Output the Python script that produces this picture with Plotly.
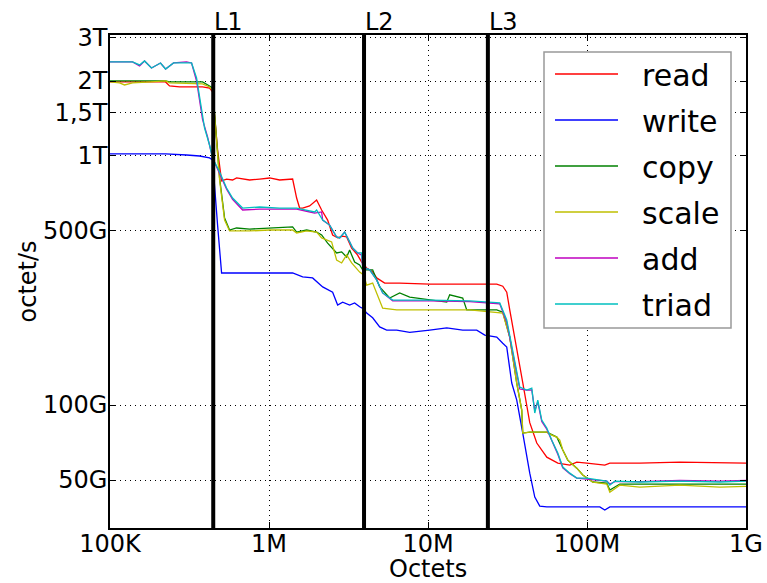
import numpy as np
import plotly.graph_objects as go

# ---- data (sizes in KB, bandwidth in GB/s) ----
read_kb = [100, 138.6, 182.4, 223.6, 236.8, 273.8, 325.8, 382.1, 422.9, 441.7, 474.9, 503.3, 541.1, 590.0, 625.3,
           682.3, 755.0, 872.9, 1009, 1166, 1300, 1408, 1492, 1558, 1628, 1801, 1993, 2143, 2338, 2513, 2702, 2906,
           3079, 3310, 3610, 3826, 4115, 4487, 4755, 5340, 6636, 10250, 18300, 27060, 29520, 31280, 32670, 36150,
           39440, 43650, 48320, 55850, 65510, 77950, 86270, 99700, 120400, 129400, 139200, 214900, 383700, 685000,
           1000000]
read_gbs = [1983, 1983, 1983, 1983, 1910, 1893, 1893, 1893, 1875, 1807, 1057, 794, 808, 801, 816,
            808, 801, 808, 816, 801, 808, 808, 678, 618, 618, 630, 666, 607, 553, 482, 469, 477,
            473, 427, 400, 375, 355, 342, 324, 309, 309, 306, 306, 306, 300, 284, 241, 171,
            123, 85, 70.4, 61.8, 58.5, 57.4, 59.0, 58.5, 57.9, 57.4, 58.5, 58.5, 59.0, 58.5,
            58.5]

write_kb = [100, 138.6, 223.6, 303.0, 365.8, 422.9, 441.7, 474.9, 503.3, 590, 755, 1009, 1408, 1628, 1881, 2175,
            2513, 2702, 2906, 3215, 3456, 3717, 3939, 4115, 4487, 4966, 5497, 6354, 7672, 10250, 13120, 16530,
            20260, 22750, 27060, 29520, 31280, 33630, 36150, 39440, 43650, 46940, 50470, 55850, 77950, 120400,
            129400, 139200, 214900, 383700, 1000000]
write_gbs = [1019, 1019, 1019, 1009, 1000, 982, 964, 528, 339, 339, 339, 339, 339, 327, 324, 298,
             284, 252, 259, 252, 257, 248, 243, 234, 224, 206, 200, 200, 196, 200, 204, 200,
             200, 191, 187.5, 177, 171, 122.6, 104.7, 77.2, 53.3, 42.7, 39.3, 39.0, 39.0, 39.0,
             37.9, 39.0, 39.0, 39.0, 39.0]

copy_kb = [100, 223.6, 236.8, 382.1, 422.9, 441.7, 488.9, 525.6, 564.9, 625.3, 755, 1009, 1408, 1492, 1725, 1993,
           2143, 2338, 2663, 2864, 3079, 3215, 3456, 3717, 3883, 4487, 4966, 5741, 6636, 7672, 10250, 13120,
           13690, 16530, 17520, 20260, 27060, 29520, 32670, 36150, 38870, 39440, 43650, 55850, 64570, 70430,
           75720, 86270, 94090, 108800, 133200, 139200, 160800, 214900, 383700, 1000000]
copy_gbs = [2001, 2001, 1983, 1983, 1910, 1875, 816, 564, 504.5, 514, 509, 514, 519, 495, 504.5, 495,
            482, 447, 408, 412, 393, 419, 375, 365, 349, 349, 298, 269, 282, 271.5, 264, 259,
            277, 269, 241, 241, 241, 236, 187.5, 122.6, 95.5, 77.2, 77.9, 77.9, 74.4, 66.0,
            60.1, 55.8, 52.4, 49.1, 48.6, 45.6, 48.2, 48.2, 48.2, 48.2]

scale_kb = [100, 114.8, 123.4, 138.6, 182.4, 223.6, 236.8, 325.8, 382.1, 422.9, 441.7, 488.9, 525.6, 564.9, 755,
            1009, 1408, 1492, 1725, 1993, 2143, 2477, 2663, 2864, 3079, 3310, 3717, 3939, 4115, 4487, 5187, 6354,
            10250, 18300, 29520, 32670, 36150, 38870, 39440, 43650, 49030, 55850, 60040, 64570, 67430, 70430,
            75720, 86270, 94090, 108800, 133200, 139200, 160800, 214900, 383700, 685000, 1000000]
scale_gbs = [1983, 1965, 1928, 1965, 1983, 2001, 1965, 1946, 1946, 1893, 1841, 801, 553, 500, 500,
             504.5, 504.5, 491, 500, 495, 469, 452, 382, 372, 400.5, 372, 342, 333, 303, 309, 245, 241,
             241, 241, 234, 187.5, 122.6, 95.5, 77.2, 77.9, 77.9, 77.9, 75.8, 74.4, 72.3, 66.0,
             60.1, 55.8, 52.4, 49.1, 48.2, 44.7, 47.7, 46.8, 47.7, 46.8, 47.2]

add_kb = [100, 138.6, 153.4, 164.9, 182.4, 207.8, 223.6, 251.0, 303.0, 325.8, 350.3, 382.1, 410.8, 441.7, 488.9,
          541.1, 590.0, 682.3, 872.9, 1166, 1492, 1725, 1936, 2143, 2175, 2406, 2663, 2782, 2991, 3215, 3358, 3610,
          3826, 3883, 4297, 4755, 5187, 5996, 10250, 18300, 28260, 31280, 34120, 37760, 41800, 44940, 46940,
          49030, 51940, 55850, 60040, 65510, 70430, 77950, 86270, 99700, 120400, 133200, 139200, 149600, 214900,
          383700, 685000, 1000000]
add_gbs = [2385, 2385, 2300, 2407, 2256, 2363, 2235, 2363, 2385, 2363, 2000, 1400, 1192, 982, 850,
           735, 670, 607, 612, 612, 612, 600, 590, 596, 553, 528, 473, 469, 495, 452, 427, 408,
           400, 358, 349, 318, 282, 262, 262, 260, 255, 215, 160, 116, 114.9, 115, 95,
           103, 86, 80, 72, 63.5, 56, 53, 50.9, 50.5, 49.8, 49.5, 48.2, 49.3, 49.3,
           49.8, 49.5, 49.8]

triad_kb = [100, 138.6, 153.4, 164.9, 182.4, 207.8, 223.6, 251.0, 303.0, 325.8, 350.3, 382.1, 393.3, 422.9, 441.7,
            488.9, 541.1, 590.0, 682.3, 872.9, 1166, 1492, 1725, 1936, 1993, 2175, 2406, 2663, 2782, 2991, 3215,
            3358, 3610, 3826, 3883, 4297, 4755, 5187, 5996, 10250, 18300, 28260, 31280, 34120, 37760, 41800,
            44940, 46940, 49030, 51940, 55850, 60040, 65510, 70430, 77950, 86270, 99700, 120400, 133200, 139200,
            149600, 214900, 383700, 685000, 1000000]
triad_gbs = [2385, 2385, 2321, 2407, 2256, 2363, 2235, 2363, 2363, 2363, 2057, 1461, 1295, 1107, 982,
             862, 744, 678, 618, 624, 618, 618, 607, 596, 607, 553, 528, 473, 469, 495, 452,
             427, 408, 408, 358, 349, 318, 282, 264, 264, 262, 257, 219.5, 166.3, 118.1, 114.9,
             117, 92.9, 104.7, 87.1, 80.9, 72.3, 64.2, 56.4, 53.3, 50.9, 50.9, 50.0, 49.5, 47.7,
             49.5, 49.1, 49.5, 49.1, 49.5]

cache_sizes = [446e3, 3.96e6, 23.8e6]
cache_labels = ["L1", "L2", "L3"]

x_tickvals = [1e5, 1e6, 1e7, 1e8, 1e9]
x_ticktext = ["100K", "1M", "10M", "100M", "1G"]
y_tickvals = [3e12, 2e12, 1.5e12, 1e12, 5e11, 1e11, 5e10]
y_ticktext = ["3T", "2T", "1,5T", "1T", "500G", "100G", "50G"]

y_min, y_max = 32.1e9, 3.06e12

series = [
    ("read", read_kb, read_gbs, "#ff0000"),
    ("write", write_kb, write_gbs, "#0000ff"),
    ("copy", copy_kb, copy_gbs, "#008000"),
    ("scale", scale_kb, scale_gbs, "#bfbf00"),
    ("add", add_kb, add_gbs, "#bf00bf"),
    ("triad", triad_kb, triad_gbs, "#00bfbf"),
]

# ---- layout geometry (pixels) ----
W, H = 767, 583
ML, MR, MT, MB = 110, 21, 35, 55
PW, PH = W - ML - MR, H - MT - MB


def px_x(px):
    return (px - ML) / PW


def px_y(py):
    return (H - MB - py) / PH


FONT = "DejaVu Sans"
NBSP = "\u00a0"
fig = go.Figure()
for name, xs, ys, col in series:
    fig.add_trace(go.Scatter(
        x=np.array(xs) * 1e3, y=np.array(ys) * 1e9, mode="lines", name=NBSP * 2 + name,
        legendgroup=name, line=dict(color=col, width=1.3)))

for c, lab in zip(cache_sizes, cache_labels):
    fig.add_trace(go.Scatter(x=[c, c], y=[1e10, 1e13], mode="lines", showlegend=False,
                             line=dict(color="black", width=4), hoverinfo="skip"))
    fig.add_annotation(x=np.log10(c), xref="x", y=1, yref="paper", text=lab, showarrow=False,
                       xanchor="left", yanchor="bottom", yshift=-3, xshift=-1,
                       font=dict(family=FONT, size=24, color="black"))

axis_common = dict(
    type="log", showline=True, linecolor="black", linewidth=1.5, mirror="ticks",
    ticks="inside", ticklen=6, tickcolor="black", tickwidth=1,
    showgrid=True, gridcolor="black", gridwidth=1, griddash="1px,4px",
    tickfont=dict(family=FONT, size=24, color="black"), zeroline=False, automargin=False,
)

fig.update_xaxes(range=[np.log10(1e5), np.log10(1e9)], tickvals=x_tickvals, ticktext=x_ticktext,
                 ticklabelstandoff=-7, **axis_common)
fig.update_yaxes(range=[np.log10(y_min), np.log10(y_max)], tickvals=y_tickvals, ticktext=y_ticktext,
                 ticklabelstandoff=-4, **axis_common)

# axis titles
fig.add_annotation(x=0.5, xref="paper", y=px_y(569), yref="paper", xanchor="center", yanchor="middle",
                   text="Octets", showarrow=False, font=dict(family=FONT, size=24, color="black"))
fig.add_annotation(x=px_x(27), xref="paper", y=0.5, yref="paper", xanchor="center", yanchor="middle",
                   text="octet/s", textangle=-90, showarrow=False,
                   font=dict(family=FONT, size=24, color="black"))

# legend frame
fig.add_shape(type="rect", xref="paper", yref="paper", x0=px_x(544), x1=px_x(731), y0=px_y(328), y1=px_y(52),
              line=dict(color="#999999", width=1.5), fillcolor="white", layer="above")

fig.update_layout(
    width=W, height=H,
    margin=dict(l=ML, r=MR, t=MT, b=MB),
    paper_bgcolor="white", plot_bgcolor="white",
    font=dict(family=FONT, color="black"),
    showlegend=True,
    legend=dict(x=px_x(550), y=px_y(48), xanchor="left", yanchor="top",
                bgcolor="rgba(0,0,0,0)", borderwidth=0,
                font=dict(family=FONT, size=30, color="black"),
                itemwidth=63, tracegroupgap=4),
)

fig.write_html("out.html")
